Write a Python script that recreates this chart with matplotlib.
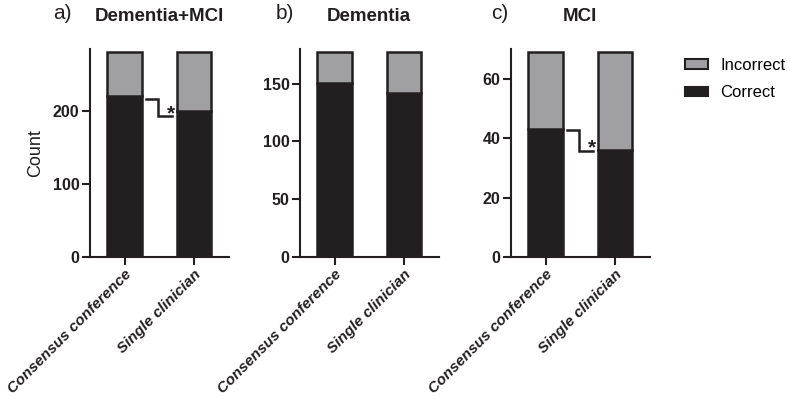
import matplotlib
matplotlib.use('Agg')
import matplotlib.pyplot as plt
from matplotlib.patches import Patch

plt.rcParams['font.family'] = ['Liberation Sans', 'DejaVu Sans']

groups = ['Consensus conference', 'Single clinician']
panels = ['Dementia+MCI', 'Dementia', 'MCI']
letters = ['a)', 'b)', 'c)']
correct = [[221, 200], [151, 142], [43, 36]]
incorrect = [[60, 81], [26, 35], [26, 33]]
ymax = [285, 180, 70]
yticks = [[0, 100, 200], [0, 50, 100, 150], [0, 20, 40, 60]]
# significance brackets: (upper y, lower y, star baseline y)
sig = {0: (217, 193, 188), 2: (42.8, 35.7, 34.8)}

dark = '#231f20'
grey = '#a0a0a2'

fig = plt.figure(figsize=(7.87, 4.0), dpi=100)
lefts = [0.1144, 0.3812, 0.6493]
letter_x = [62, 285, 500]

for i in range(3):
    ax = fig.add_axes([lefts[i], 0.3575, 0.1760, 0.52])
    x = [0, 1]
    ax.bar(x, correct[i], width=0.5, color=dark, edgecolor=dark, linewidth=1.8)
    ax.bar(x, incorrect[i], width=0.5, bottom=correct[i], color=grey,
           edgecolor=dark, linewidth=1.8)
    ax.set_xlim(-0.5, 1.5)
    ax.set_ylim(0, ymax[i])
    ax.set_yticks(yticks[i])
    ax.set_xticks(x)
    ax.set_xticklabels(groups, rotation=45, ha='right', va='top',
                       rotation_mode='anchor', fontsize=11,
                       fontweight='bold', fontstyle='italic')
    for lab in ax.get_yticklabels():
        lab.set_fontweight('bold')
        lab.set_fontsize(11.5)
    ax.spines['top'].set_visible(False)
    ax.spines['right'].set_visible(False)
    for s in ['left', 'bottom']:
        ax.spines[s].set_linewidth(1.5)
        ax.spines[s].set_color(dark)
    ax.tick_params(length=5.5, width=1.5, color=dark, labelcolor=dark, pad=2)
    ax.set_title(panels[i], fontsize=13.5, fontweight='bold', pad=20, color=dark)
    fig.text(letter_x[i] / 787, 1 - 13.5 / 400, letters[i], fontsize=15,
             color=dark, ha='center', va='center')
    if i in sig:
        hi, lo, star = sig[i]
        ax.plot([0.31, 0.48, 0.48, 0.68], [hi, hi, lo, lo], color=dark,
                linewidth=1.8, solid_joinstyle='miter')
        ax.text(0.665, star, '*', fontsize=15, fontweight='bold', color=dark,
                ha='center', va='baseline')
    if i == 0:
        ax.set_ylabel('Count', fontsize=13, color=dark, labelpad=6)

handles = [Patch(facecolor=grey, edgecolor=dark, linewidth=1.5, label='Incorrect'),
           Patch(facecolor=dark, edgecolor=dark, linewidth=1.5, label='Correct')]
fig.legend(handles=handles, loc='upper left', bbox_to_anchor=(0.862, 0.872),
           frameon=False, fontsize=12, handlelength=1.4, handleheight=0.5,
           handletextpad=0.7, labelspacing=0.75, borderaxespad=0)

fig.savefig('out.png', dpi=100)
